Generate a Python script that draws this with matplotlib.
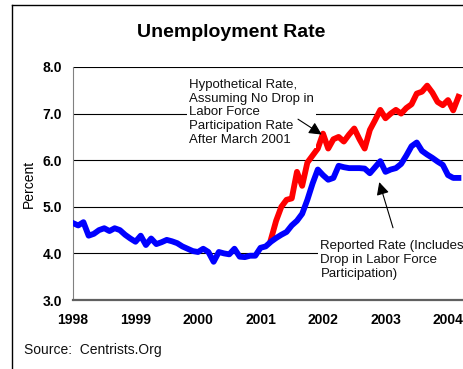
import matplotlib
matplotlib.use('Agg')
import matplotlib.pyplot as plt
from matplotlib.lines import Line2D
import numpy as np

plt.rcParams['font.family'] = ['Liberation Sans', 'DejaVu Sans']

# monthly values, Jan 1998 .. Mar 2004
reported = [4.65, 4.6, 4.67, 4.38, 4.42, 4.5, 4.54, 4.48, 4.54, 4.5, 4.4, 4.32,
            4.25, 4.38, 4.18, 4.32, 4.2, 4.24, 4.29, 4.26, 4.22, 4.15, 4.1, 4.05,
            4.03, 4.1, 4.03, 3.82, 4.03, 4.0, 3.98, 4.1, 3.93, 3.92, 3.95, 3.95,
            4.12, 4.15, 4.25, 4.33, 4.4, 4.46, 4.6, 4.7, 4.85, 5.15, 5.5, 5.8,
            5.68, 5.58, 5.62, 5.88, 5.85, 5.83, 5.83, 5.83, 5.82, 5.72, 5.85, 5.98,
            5.75, 5.8, 5.83, 5.92, 6.1, 6.3, 6.38, 6.2, 6.12, 6.05, 5.97, 5.9,
            5.68, 5.62, 5.62]
# hypothetical rate, starts March 2001 (month index 38)
hypo_start = 38
hypothetical = [4.3, 4.7, 5.0, 5.15, 5.18, 5.75, 5.45, 5.95, 6.1, 6.25,
                6.57, 6.25, 6.45, 6.5, 6.4, 6.55, 6.68, 6.45, 6.25, 6.65, 6.86, 7.08,
                6.9, 7.0, 7.08, 7.0, 7.12, 7.2, 7.43, 7.47, 7.6, 7.45, 7.25, 7.18,
                7.29, 7.07, 7.36]
years = [1998, 1999, 2000, 2001, 2002, 2003, 2004]
yticks = [3.0, 4.0, 5.0, 6.0, 7.0, 8.0]

t = 1998 + np.arange(len(reported)) / 12.0
t_hypo = t[hypo_start:hypo_start + len(hypothetical)]

fig = plt.figure(figsize=(4.64, 3.69), dpi=100)
ax = fig.add_axes([73 / 464, 1 - 300 / 369, 1 - 73 / 464, 233 / 369])

ax.plot(t_hypo, hypothetical, color='#ff0000', lw=4.2, solid_joinstyle='round', zorder=3)
ax.plot(t, reported, color='#0000ff', lw=4.2, solid_joinstyle='round', zorder=4)

ax.set_xlim(1998, 1998 + (464 - 73) / 62.5)
ax.set_ylim(3.0, 8.0)
ax.set_yticks(yticks)
ax.set_yticklabels(['%.1f' % v for v in yticks], fontsize=10, fontweight='bold')
ax.set_xticks(years)
ax.set_xticklabels([str(y) for y in years], fontsize=10, fontweight='bold')
ax.tick_params(length=0, pad=8)
ax.tick_params(axis='x', pad=9)
ax.grid(axis='y', color='black', lw=0.8, zorder=1)
ax.set_axisbelow(True)
for s in ['top', 'right']:
    ax.spines[s].set_visible(False)
ax.spines['left'].set_color('#808080')
ax.spines['bottom'].set_color('#606060')
ax.spines['bottom'].set_linewidth(1.6)
ax.set_ylabel('Percent', fontsize=10, labelpad=5)

box = dict(facecolor='white', edgecolor='none', pad=1.5)
arrow = dict(arrowstyle='-|>', color='black', lw=0.8, mutation_scale=19, shrinkA=0, shrinkB=0)
ax.annotate('Hypothetical Rate,\nAssuming No Drop in\nLabor Force\nParticipation Rate\nAfter March 2001',
            xy=(2001.98, 6.55), xytext=(1999.85, 7.74), fontsize=9.5, color='#111111',
            ha='left', va='top', linespacing=1.18, bbox=box, zorder=5)
ax.annotate('', xy=(2001.98, 6.55), xytext=(2001.6, 6.88), arrowprops=arrow, zorder=5)
ax.annotate('Reported Rate (Includes\nDrop in Labor Force\nParticipation)',
            xy=(2002.9, 5.53), xytext=(2001.96, 4.28), fontsize=9.5, color='#111111',
            ha='left', va='top', linespacing=1.18, bbox=box, zorder=5)
ax.annotate('', xy=(2002.9, 5.53), xytext=(2003.12, 4.55), arrowprops=arrow, zorder=5)

fig.text(231 / 464, 1 - 37 / 369, 'Unemployment Rate', fontsize=14, fontweight='bold',
         ha='center', va='baseline')
fig.text(24 / 464, 1 - 350 / 369, 'Source:  Centrists.Org', fontsize=10, color='#111111',
         ha='left', va='center')

# outer frame (only left and top edges are inside the picture)
fig.add_artist(Line2D([12 / 464, 12 / 464], [0, 1 - 5 / 369], color='black', lw=1))
fig.add_artist(Line2D([12 / 464, 1], [1 - 5 / 369, 1 - 5 / 369], color='black', lw=1))

fig.savefig('out.png', dpi=100)
